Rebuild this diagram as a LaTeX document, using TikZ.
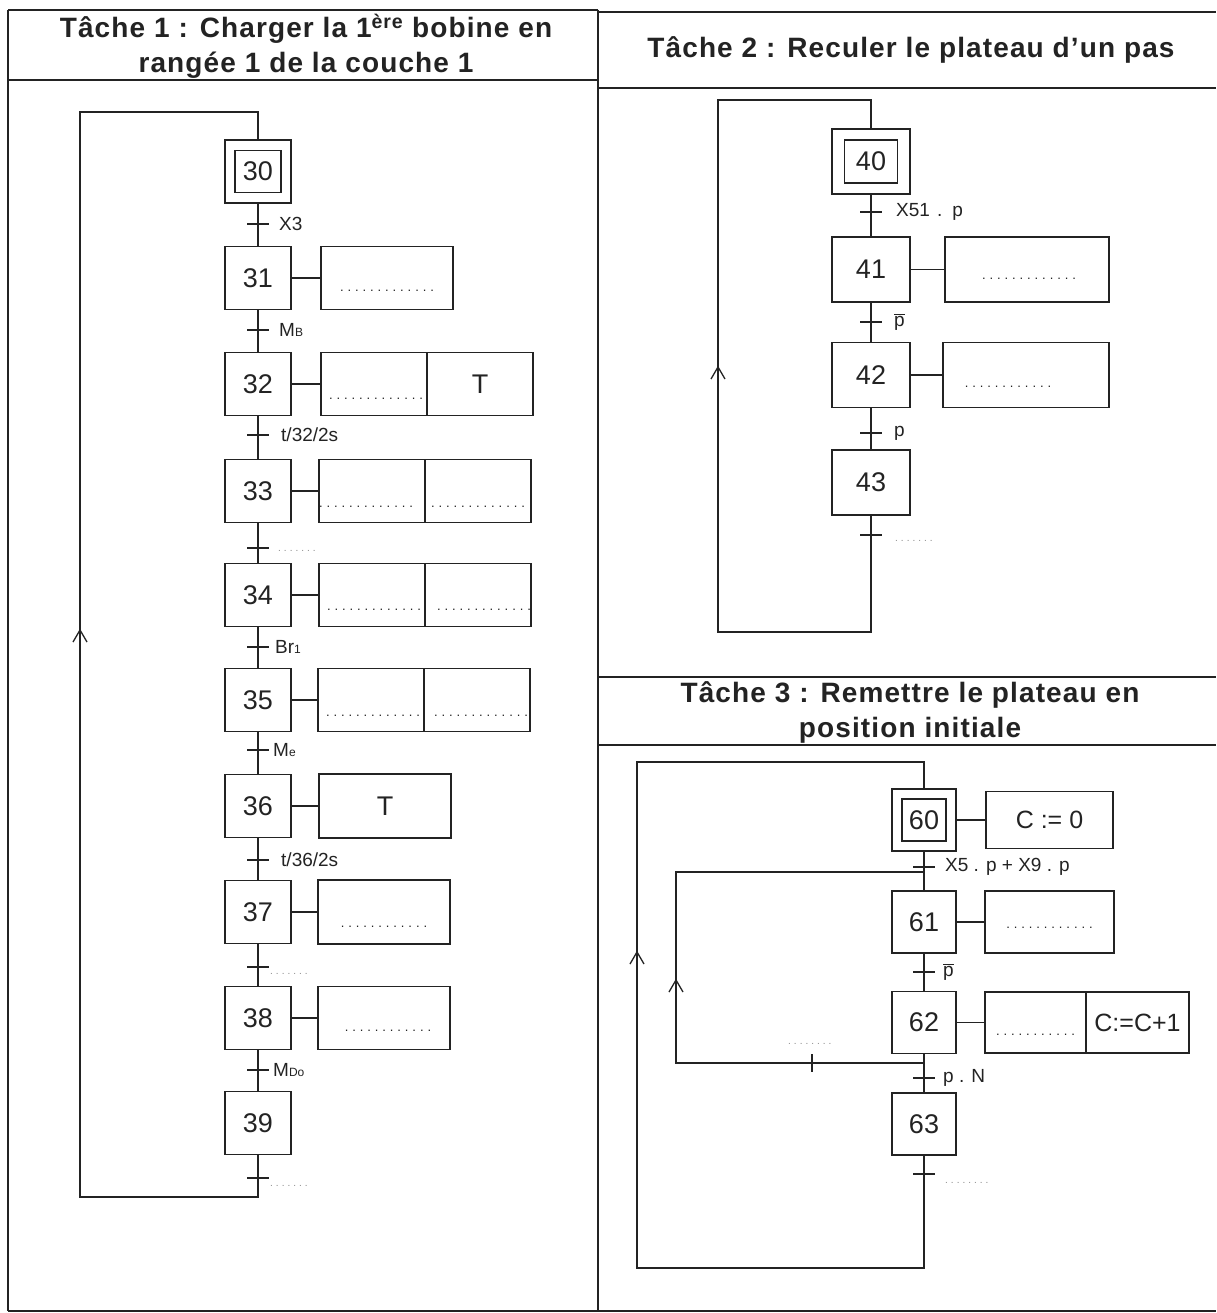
\documentclass[tikz,border=0pt]{standalone}
\usepackage{fontspec}
\setmainfont{Liberation Sans}
\newfontfamily\dotfont[LetterSpace=30]{Liberation Sans}
\newfontfamily\titlefont[LetterSpace=4]{Liberation Sans}
\usetikzlibrary{calc}
\definecolor{ink}{RGB}{35,35,35}
\tikzset{
  ln/.style={draw=ink, line width=1.3pt},
  stepbox/.style={draw=ink, line width=1.3pt, inner sep=0pt, text=ink,
    font=\fontsize{27}{30}\selectfont, minimum width=66pt, minimum height=63pt},
  stepboxb/.style={stepbox, minimum width=78pt, minimum height=65pt},
  stepboxc/.style={stepbox, minimum width=64pt, minimum height=62pt},
  innerbox/.style={draw=ink, line width=1.3pt, inner sep=0pt, text=ink,
    font=\fontsize{27}{30}\selectfont},
  actbox/.style={draw=ink, line width=1.3pt, inner sep=0pt, text=ink,
    font=\fontsize{27}{30}\selectfont},
  dots/.style={anchor=base, inner sep=0pt, text=ink, font=\dotfont\fontsize{13}{13}\selectfont},
  tdots/.style={anchor=base west, inner sep=0pt, text=black!45, font=\dotfont\fontsize{10}{10}\selectfont},
  tlabel/.style={anchor=west, inner sep=0pt, text=ink, font=\fontsize{19}{21}\selectfont},
  title/.style={align=center, text=ink, inner sep=0pt,
    font=\titlefont\bfseries\fontsize{28}{35}\selectfont},
  tick/.style={draw=ink, line width=1.3pt},
  chev/.style={draw=ink, line width=1.3pt}
}
\newcommand{\sub}[1]{{\fontsize{12}{12}\selectfont #1}}
\begin{document}
\begin{tikzpicture}[x=1pt,y=-1pt]
\useasboundingbox (0,0) rectangle (1216,1313);
\fill[white] (0,0) rectangle (1216,1313);

% ---------- frame ----------
\draw[ln] (8,10) -- (598,10);
\draw[ln] (598,12) -- (1216,12);
\draw[ln] (8,10) -- (8,1311);
\draw[ln] (598,10) -- (598,1311);
\draw[ln] (8,1311) -- (1216,1311);
\draw[ln] (8,80) -- (598,80);
\draw[ln] (598,88) -- (1216,88);
\draw[ln] (598,677) -- (1216,677);
\draw[ln] (598,745) -- (1216,745);

% ---------- titles ----------
\node[title] (title1) at (306,46) {Tâche 1 : Charger la 1\textsuperscript{ère} bobine en\\rangée 1 de la couche 1};
\node[title] (title2) at (911,50) {Tâche 2 : Reculer le plateau d’un pas};
\node[title] (title3) at (910,712) {Tâche 3 : Remettre le plateau en\\position initiale};

% ================= TASK 1 =================
\node[stepbox] (s30) at (258,171.5) {};
\node[innerbox, minimum width=46pt, minimum height=42pt] (s30i) at (s30.center) {30};
\foreach \n/\y in {31/278,32/384,33/491,34/595,35/700,36/806,37/912,38/1018,39/1123}
  \node[stepbox] (s\n) at (258,\y) {\n};
\foreach \a/\b in {30/31,31/32,32/33,33/34,34/35,35/36,36/37,37/38,38/39}
  \draw[ln] (s\a) -- (s\b);
\foreach \n/\y in {30/224,31/330,32/435,33/548,34/647,35/750,36/860,37/967,38/1070,39/1178}{
  \coordinate (t\n) at (258,\y);
  \draw[tick] ($(t\n)+(-11,0)$) -- ($(t\n)+(11,0)$);
}
\node[tlabel] (l30) at (279,224) {X3};
\node[tlabel] (l31) at (279,330) {M\sub{B}};
\node[tlabel] (l32) at (281,435) {t/32/2s};
\node[tdots]  (l33) at (278,551) {.......};
\node[tlabel] (l34) at (275,647) {Br\sub{1}};
\node[tlabel] (l35) at (273,750) {M\sub{e}};
\node[tlabel] (l36) at (281,860) {t/36/2s};
\node[tdots]  (l37) at (270,974) {.......};
\node[tlabel] (l38) at (273,1070) {M\sub{Do}};
\node[tdots]  (l39) at (270,1186) {.......};

% loop task 1
\coordinate (c1b) at (80,1197);
\coordinate (c1t) at (80,112);
\draw[ln] (s39) |- (c1b) -- (c1t) -| (s30);
\draw[chev] (80,630) -- ++(-7,12) (80,630) -- ++(7,12);

% actions task 1
\node[actbox, minimum width=132pt, minimum height=63pt] (a31) at (387,278) {};
\node[dots] (d31) at ($(a31)+(0,14)$) {.............};
\node[actbox, minimum width=106pt, minimum height=63pt] (a32l) at (374,384) {};
\node[actbox, minimum width=106pt, minimum height=63pt] (a32r) at (480,384) {T};
\node[dots] (d32) at ($(a32l)+(2,15)$) {.............};
\node[actbox, minimum width=106pt, minimum height=63pt] (a33l) at (372,491) {};
\node[actbox, minimum width=106pt, minimum height=63pt] (a33r) at (478,491) {};
\node[dots] (d33l) at ($(a33l)+(-6,16)$) {.............};
\node[dots] (d33r) at ($(a33r)+(0,16)$) {.............};
\node[actbox, minimum width=106pt, minimum height=63pt] (a34l) at (372,595) {};
\node[actbox, minimum width=106pt, minimum height=63pt] (a34r) at (478,595) {};
\node[dots] (d34l) at ($(a34l)+(2,15)$) {.............};
\node[dots] (d34r) at ($(a34r)+(6,15)$) {.............};
\node[actbox, minimum width=106pt, minimum height=63pt] (a35l) at (371,700) {};
\node[actbox, minimum width=106pt, minimum height=63pt] (a35r) at (477,700) {};
\node[dots] (d35l) at ($(a35l)+(2,16)$) {.............};
\node[dots] (d35r) at ($(a35r)+(4,16)$) {.............};
\node[actbox, minimum width=132pt, minimum height=64pt] (a36) at (385,806) {T};
\node[actbox, minimum width=132pt, minimum height=64pt] (a37) at (384,912) {};
\node[dots] (d37) at ($(a37)+(0,15)$) {............};
\node[actbox, minimum width=132pt, minimum height=63pt] (a38) at (384,1018) {};
\node[dots] (d38) at ($(a38)+(4,13)$) {............};
\foreach \n in {31,36,37,38} \draw[ln] (s\n) -- (a\n);
\foreach \n in {32,33,34,35} \draw[ln] (s\n) -- (a\n l);

% ================= TASK 2 =================
\node[stepboxb] (s40) at (871,161.5) {};
\node[innerbox, minimum width=53pt, minimum height=43pt] (s40i) at (s40.center) {40};
\foreach \n/\y in {41/269.5,42/375,43/482.5}
  \node[stepboxb] (s\n) at (871,\y) {\n};
\foreach \a/\b in {40/41,41/42,42/43}
  \draw[ln] (s\a) -- (s\b);
\foreach \n/\y in {40/212,41/322,42/433,43/535}{
  \coordinate (t\n) at (871,\y);
  \draw[tick] ($(t\n)+(-11,0)$) -- ($(t\n)+(11,0)$);
}
\node[tlabel] (l40) at (896,212) {X51\hspace{7pt}.\hspace{10pt}p};
\node[tlabel] (l41) at (894,322) {$\overline{\mbox{p}}$};
\node[tlabel] (l42) at (894,433) {p};
\node[tdots]  (l43) at (895,541) {.......};
\coordinate (c2b) at (718,632);
\coordinate (c2t) at (718,100);
\draw[ln] (s43) |- (c2b) -- (c2t) -| (s40);
\draw[chev] (718,367) -- ++(-7,12) (718,367) -- ++(7,12);

\node[actbox, minimum width=164pt, minimum height=65pt] (a41) at (1027,269.5) {};
\node[dots] (d41) at ($(a41)+(2,10)$) {.............};
\node[actbox, minimum width=166pt, minimum height=65pt] (a42) at (1026,375) {};
\node[dots] (d42) at ($(a42)+(-18,12)$) {............};
\draw[ln] (s41) -- (a41);
\draw[ln] (s42) -- (a42);

% ================= TASK 3 =================
\node[stepboxc] (s60) at (924,820) {};
\node[innerbox, minimum width=44pt, minimum height=42pt] (s60i) at (s60.center) {60};
\foreach \n/\y in {61/922,62/1022.5,63/1124}
  \node[stepboxc] (s\n) at (924,\y) {\n};
\foreach \a/\b in {60/61,61/62,62/63}
  \draw[ln] (s\a) -- (s\b);
\foreach \n/\y in {60/867,61/972,62/1078,63/1174}{
  \coordinate (t\n) at (924,\y);
  \draw[tick] ($(t\n)+(-11,0)$) -- ($(t\n)+(11,0)$);
}
\node[tlabel] (l60) at (945,867) {X5 . p + X9 . p};
\node[tlabel] (l61) at (943,972) {$\overline{\mbox{p}}$};
\node[tlabel] (l62) at (943,1078) {p . N};
\node[tdots]  (l63) at (945,1183) {........};

% inner loop 62 -> 61
\coordinate (c3b) at (676,1063);
\coordinate (c3t) at (676,872);
\coordinate (j61) at (924,872);
\draw[ln] (s62) |- (c3b) -- (c3t) -- (j61);
\draw[tick] (812,1054) -- (812,1072);
\node[tdots] (lb) at (788,1044) {........};
\draw[chev] (676,980) -- ++(-7,12) (676,980) -- ++(7,12);

% outer loop 63 -> 60
\coordinate (c3bb) at (637,1268);
\coordinate (c3tt) at (637,762);
\draw[ln] (s63) |- (c3bb) -- (c3tt) -| (s60);
\draw[chev] (637,952) -- ++(-7,12) (637,952) -- ++(7,12);

\node[actbox, minimum width=127pt, minimum height=57pt, font=\fontsize{25}{28}\selectfont] (a60) at (1049.5,820) {C := 0};
\node[actbox, minimum width=129pt, minimum height=62pt] (a61) at (1049.5,922) {};
\node[dots] (d61) at ($(a61)+(0,6)$) {............};
\node[actbox, minimum width=101pt, minimum height=61pt] (a62l) at (1035.5,1022.5) {};
\node[actbox, minimum width=103pt, minimum height=61pt, font=\fontsize{25}{28}\selectfont] (a62r) at (1137.5,1022.5) {C:=C+1};
\node[dots] (d62) at ($(a62l)+(0,13)$) {...........};
\draw[ln] (s60) -- (a60);
\draw[ln] (s61) -- (a61);
\draw[ln] (s62) -- (a62l);
\end{tikzpicture}
\end{document}
